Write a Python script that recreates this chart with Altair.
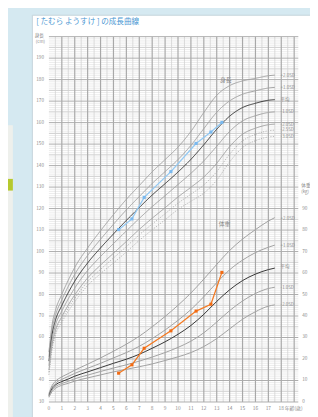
import altair as alt
import pandas as pd

FONT = "Noto Sans CJK JP"

# ---------------- data ----------------
ages = [0, 0.25, 0.5, 1, 1.5, 2, 3, 4, 5, 6, 7, 8, 9, 10, 11, 12, 13, 14, 15, 16, 17, 17.5]

h_p2 = [53.2, 66.1, 72.5, 80.1, 86.7, 92.6, 101.7, 109.7, 117.2, 124.3, 130.7, 137.1, 142.8, 148.6, 155.9, 164.7, 172.7, 177.2, 179.4, 180.6, 181.8, 182.1]
h_p1 = [51.1, 63.8, 70.2, 77.5, 83.8, 89.4, 98.2, 105.7, 112.7, 119.4, 125.6, 131.7, 137.2, 142.8, 149.4, 157.2, 164.8, 170.1, 173.2, 174.8, 176.1, 176.4]
h_mean = [49.0, 61.5, 67.9, 74.9, 80.9, 86.2, 94.7, 101.7, 108.2, 114.5, 120.5, 126.3, 131.6, 137.0, 142.9, 149.7, 156.9, 163.0, 167.0, 169.0, 170.4, 170.7]
h_m1 = [46.9, 59.2, 65.6, 72.3, 78.0, 83.0, 91.2, 97.7, 103.7, 109.6, 115.4, 120.9, 126.0, 131.2, 136.4, 142.2, 149.0, 155.9, 160.8, 163.2, 164.7, 165.0]
h_m2 = [44.8, 56.9, 63.3, 69.7, 75.1, 79.8, 87.7, 93.7, 99.2, 104.7, 110.3, 115.5, 120.4, 125.4, 129.9, 134.7, 141.1, 148.8, 154.6, 157.4, 159.0, 159.3]
h_m25 = [43.8, 55.8, 62.2, 68.4, 73.7, 78.2, 86.0, 91.7, 97.0, 102.3, 107.8, 112.8, 117.6, 122.5, 126.7, 131.0, 137.2, 145.3, 151.5, 154.5, 156.2, 156.5]
h_m3 = [42.7, 54.6, 61.0, 67.1, 72.2, 76.6, 84.2, 89.7, 94.7, 99.8, 105.2, 110.1, 114.8, 119.6, 123.4, 127.2, 133.2, 141.7, 148.4, 151.6, 153.3, 153.6]

w_p2 = [3.9, 7.7, 9.6, 11.7, 13.2, 14.8, 17.6, 20.5, 23.6, 26.9, 30.6, 35.0, 39.8, 45.0, 50.7, 57.2, 64.0, 70.5, 75.8, 80.2, 84.2, 85.8]
w_p1 = [3.4, 6.9, 8.7, 10.5, 11.9, 13.3, 15.7, 18.0, 20.5, 23.0, 25.9, 29.5, 33.5, 38.0, 43.0, 49.0, 55.5, 61.5, 66.0, 69.5, 72.0, 73.0]
w_mean = [3.0, 6.2, 7.9, 9.5, 10.7, 12.0, 14.0, 16.0, 18.0, 19.9, 22.2, 25.0, 28.0, 31.5, 35.6, 40.8, 46.8, 52.2, 56.5, 59.5, 61.6, 62.3]
w_m1 = [2.6, 5.6, 7.1, 8.6, 9.6, 10.8, 12.5, 14.2, 15.8, 17.3, 19.0, 20.9, 23.0, 25.4, 28.3, 32.2, 37.2, 42.5, 47.0, 50.5, 52.8, 53.4]
w_m2 = [2.2, 4.9, 6.3, 7.8, 8.7, 9.7, 11.2, 12.6, 14.0, 15.2, 16.4, 17.7, 19.3, 21.0, 23.0, 25.8, 29.5, 34.0, 38.5, 42.0, 44.6, 45.2]

visit_ages = [5.4, 6.43, 7.38, 9.45, 11.4, 12.55, 13.4]
child_height = [110.2, 115.2, 125.2, 137.2, 150.3, 155.6, 160.1]
child_weight = [13.4, 17.3, 25.0, 33.1, 42.3, 45.5, 60.3]

h_names = ["+2.0SD", "+1.0SD", "平均", "-1.0SD", "-2.0SD", "-2.5SD", "-3.0SD"]
h_label_y = [181.9, 176.3, 170.4, 164.7, 158.9, 156.6, 153.4]
w_names = ["+2.0SD", "+1.0SD", "平均", "-1.0SD", "-2.0SD"]
w_label_y = [85.3, 72.7, 62.7, 53.2, 45.1]

x_ticks = list(range(0, 19))
h_ticks = list(range(30, 200, 10))
w_ticks = list(range(0, 100, 10))

title_text = "[ たむら ようすけ ] の成長曲線"

# ---------------- tables ----------------
def curves(names, series):
    rows = []
    for n, s in zip(names, series):
        for a, v in zip(ages, s):
            rows.append({"age": a, "v": v, "curve": n})
    return pd.DataFrame(rows)

h_df = curves(h_names, [h_p2, h_p1, h_mean, h_m1, h_m2, h_m25, h_m3])
w_df = curves(w_names, [w_p2, w_p1, w_mean, w_m1, w_m2])
kid = pd.DataFrame({"age": visit_ages, "h": child_height, "w": child_weight})

XMAX = 19.32
xs = alt.Scale(domain=[0, XMAX], nice=False, zero=False)
hs = alt.Scale(domain=[30, 200], nice=False, zero=False)
ws = alt.Scale(domain=[0, 170], nice=False, zero=False)

GRAY = "#a0a0a0"
LBL = "#8c8c8c"

X = lambda f: alt.X(f, scale=xs, axis=None)
YH = lambda f: alt.Y(f, scale=hs, axis=None)
YW = lambda f: alt.Y(f, scale=ws, axis=None)

one = pd.DataFrame({"a": [0]})
# background panel pieces (decoration)
panel = alt.Chart(one).mark_rect(fill="white", stroke="#c3d3db", strokeWidth=1).encode(
    x=alt.value(-17), x2=alt.value(300), y=alt.value(-22), y2=alt.value(400))
sidebox = alt.Chart(one).mark_rect(fill="#eef0ec").encode(
    x=alt.value(-45), x2=alt.value(-37), y=alt.value(91), y2=alt.value(400))
sidegreen = alt.Chart(one).mark_rect(fill="#b5c92e").encode(
    x=alt.value(-45), x2=alt.value(-37), y=alt.value(146), y2=alt.value(158))

# grid
hmin = pd.DataFrame({"g": [v for v in range(31, 200) if v % 5 != 0]})
hmid = pd.DataFrame({"g": [v for v in range(35, 200, 10)]})
hmaj = pd.DataFrame({"g": h_ticks + [200]})
vmin = pd.DataFrame({"g": [i + 0.5 for i in range(0, 19)]})
vmaj = pd.DataFrame({"g": list(range(1, 20))})

g_hmin = alt.Chart(hmin).mark_rule(color="#e7e7e7", strokeWidth=0.8).encode(y=YH("g:Q"))
g_hmid = alt.Chart(hmid).mark_rule(color="#cdcdcd", strokeWidth=1).encode(y=YH("g:Q"))
g_vmin = alt.Chart(vmin).mark_rule(color="#d2d2d2", strokeWidth=0.8).encode(x=X("g:Q"))
g_vmaj = alt.Chart(vmaj).mark_rule(color="#a8a8a8", strokeWidth=1.2).encode(x=X("g:Q"))
g_hmaj = alt.Chart(hmaj).mark_rule(color="#ababab", strokeWidth=1).encode(y=YH("g:Q"))

# tick labels as text
lab_left = alt.Chart(pd.DataFrame({"v": h_ticks})).mark_text(
    align="right", baseline="middle", fontSize=4.8, color=LBL, font=FONT).encode(
    x=alt.value(-5), y=YH("v:Q"), text="v:Q")
lab_x = alt.Chart(pd.DataFrame({"v": x_ticks})).mark_text(
    align="center", baseline="middle", fontSize=5, color=LBL, font=FONT).encode(
    x=X("v:Q"), y=alt.value(381), text="v:Q")
lab_right = alt.Chart(pd.DataFrame({"v": w_ticks})).mark_text(
    align="left", baseline="middle", fontSize=4.8, color=LBL, font=FONT).encode(
    x=alt.value(260), y=YW("v:Q"), text="v:Q")

h_color = alt.Color("curve:N", scale=alt.Scale(domain=h_names, range=[GRAY, GRAY, "#333333", GRAY, GRAY, "#aaaaaa", "#aaaaaa"]), legend=None)
h_dash = alt.StrokeDash("curve:N", scale=alt.Scale(domain=h_names, range=[[1, 0], [1, 0], [1, 0], [1, 0], [1, 0], [1, 1.5], [1, 1.5]]), legend=None)
h_size = alt.StrokeWidth("curve:N", scale=alt.Scale(domain=h_names, range=[1, 1, 1.3, 1, 1, 1, 1]), legend=None)
h_lines = alt.Chart(h_df).mark_line(interpolate="monotone").encode(
    x=X("age:Q"), y=YH("v:Q"), color=h_color, strokeDash=h_dash, strokeWidth=h_size, detail="curve:N")

h_lab = alt.Chart(pd.DataFrame({"t": h_names, "y": h_label_y, "x": [17.95] * 7})).mark_text(
    align="left", baseline="middle", fontSize=4.5, color=LBL, font=FONT).encode(
    x=X("x:Q"), y=YH("y:Q"), text="t:N")

h_name = alt.Chart(pd.DataFrame({"t": ["身長"], "x": [13.7], "y": [179.8]})).mark_text(
    fontSize=6, color="#8a8a8a", font=FONT).encode(x=X("x:Q"), y=YH("y:Q"), text="t:N")

blue = alt.Chart(kid).mark_line(color="#93c9f3", strokeWidth=1.3,
                                point=alt.OverlayMarkDef(shape="square", size=10, color="#7ab9ef", filled=True)).encode(
    x=X("age:Q"), y=YH("h:Q"))

w_color = alt.Color("curve:N", scale=alt.Scale(domain=w_names, range=[GRAY, GRAY, "#333333", GRAY, GRAY]), legend=None)
w_size = alt.StrokeWidth("curve:N", scale=alt.Scale(domain=w_names, range=[1, 1, 1.3, 1, 1]), legend=None)
w_lines = alt.Chart(w_df).mark_line(interpolate="monotone").encode(
    x=X("age:Q"), y=YW("v:Q"), color=w_color, strokeWidth=w_size, detail="curve:N")

w_lab = alt.Chart(pd.DataFrame({"t": w_names, "y": w_label_y, "x": [17.95] * 5})).mark_text(
    align="left", baseline="middle", fontSize=4.5, color=LBL, font=FONT).encode(
    x=X("x:Q"), y=YW("y:Q"), text="t:N")

w_name = alt.Chart(pd.DataFrame({"t": ["体重"], "x": [13.6], "y": [82.6]})).mark_text(
    fontSize=6, color="#8a8a8a", font=FONT).encode(x=X("x:Q"), y=YW("y:Q"), text="t:N")

orange = alt.Chart(kid).mark_line(color="#f47a22", strokeWidth=1.3,
                                  point=alt.OverlayMarkDef(shape="square", size=10, color="#f26a12", filled=True)).encode(
    x=X("age:Q"), y=YW("w:Q"))

# fixed-position texts (titles)
def ptext(t, x, y, size, color, align="left"):
    return alt.Chart(pd.DataFrame({"t": [t]})).mark_text(
        align=align, baseline="middle", fontSize=size, color=color, font=FONT).encode(
        x=alt.value(x), y=alt.value(y), text="t:N")

texts = [
    ptext(title_text, -13, -15, 7.8, "#4b98d3"),
    ptext("身長", -5, -0.5, 4.8, LBL, "right"),
    ptext("(cm)", -4, 5.5, 4.5, LBL, "right"),
    ptext("体重", 259, 153, 4.8, LBL),
    ptext("(kg)", 259, 159.7, 4.5, LBL),
    ptext("年齢(歳)", 242, 381, 5, LBL),
]

height_part = alt.layer(panel, sidebox, sidegreen, g_hmin, g_hmid, g_vmin, g_vmaj, g_hmaj,
                        lab_left, lab_x, h_lines, h_lab, h_name, blue, *texts)
weight_part = alt.layer(w_lines, w_lab, w_name, orange, lab_right)

chart = alt.layer(height_part, weight_part).resolve_scale(
    y="independent", color="independent", strokeWidth="independent", strokeDash="independent"
).properties(
    width=256, height=375,
    autosize=alt.AutoSizeParams(type="none"),
    padding={"left": 42, "top": 24, "right": 12, "bottom": 10},
).configure(background="#d5e9f1").configure_view(stroke="#8f8f8f", strokeWidth=1)

chart.save("out.html", embed_options={"renderer": "svg", "actions": False})
